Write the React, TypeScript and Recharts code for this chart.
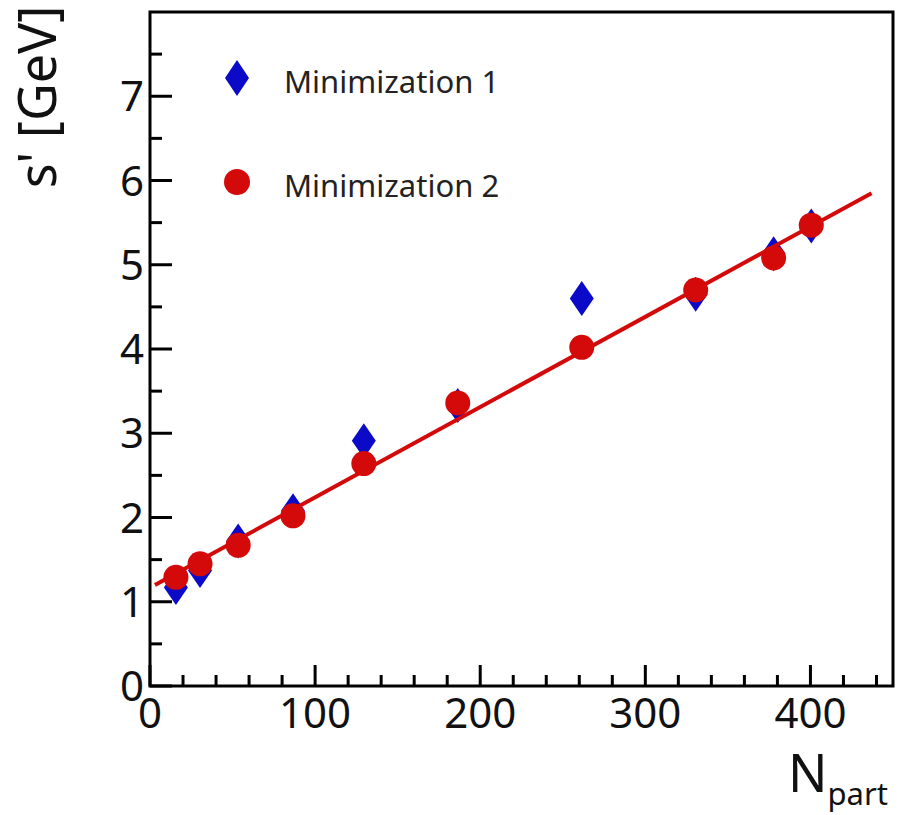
import React from 'react';
import { ScatterChart, Scatter, XAxis, YAxis, ReferenceArea, Legend } from 'recharts';

// N_part values (x) for both minimizations
const nPart = [15.7, 30.3, 53.4, 86.6, 129.5, 186.4, 261.5, 330.5, 377.7, 400.5];
// Minimization 1 (blue diamonds)
const sMin1 = [1.17, 1.37, 1.72, 2.08, 2.91, 3.33, 4.6, 4.65, 5.13, 5.46];
// Minimization 2 (red circles)
const sMin2 = [1.29, 1.45, 1.67, 2.02, 2.64, 3.36, 4.02, 4.7, 5.08, 5.47];
// Linear fit line end points
const fitX = [3, 437];
const fitY = [1.2, 5.85];

const xTicks = [0, 20, 40, 60, 80, 100, 120, 140, 160, 180, 200, 220, 240, 260, 280, 300, 320, 340, 360, 380, 400, 420, 440];
const yTicks = [0, 0.5, 1, 1.5, 2, 2.5, 3, 3.5, 4, 4.5, 5, 5.5, 6, 6.5, 7, 7.5];
const xLabels = [0, 100, 200, 300, 400];
const yLabels = [0, 1, 2, 3, 4, 5, 6, 7];

const seriesNames = ['Minimization 1', 'Minimization 2'];

const BLUE = '#0a0ac8';
const RED = '#d40a0a';
const FONT = "'Noto Sans', 'Liberation Sans', Arial, sans-serif";

const data1 = nPart.map((x, i) => ({ x, y: sMin1[i] }));
const data2 = nPart.map((x, i) => ({ x, y: sMin2[i] }));
const fitData = fitX.map((x, i) => ({ x, y: fitY[i] }));

const Diamond = (props: any) => {
  const { cx, cy } = props;
  if (cx == null || cy == null) return null;
  const w = 12, h = 17.5;
  return <polygon points={`${cx},${cy - h} ${cx + w},${cy} ${cx},${cy + h} ${cx - w},${cy}`} fill={BLUE} />;
};

const Dot = (props: any) => {
  const { cx, cy } = props;
  if (cx == null || cy == null) return null;
  return <circle cx={cx} cy={cy} r={12.5} fill={RED} />;
};

const NoShape = () => <g />;

const XTick = (props: any) => {
  const { x, y, payload } = props;
  const v = payload.value;
  const major = xLabels.includes(v);
  return (
    <g>
      <line x1={x} x2={x} y1={y} y2={y - (major ? 21 : 11)} stroke="#000" strokeWidth={3} />
      {major && (
        <text x={x} y={y + 42} textAnchor="middle" fontSize={42} fontFamily={FONT} fill="#111">
          {v}
        </text>
      )}
    </g>
  );
};

const YTick = (props: any) => {
  const { x, y, payload } = props;
  const v = payload.value;
  const major = yLabels.includes(v);
  return (
    <g>
      <line x1={x} x2={x + (major ? 22 : 12)} y1={y} y2={y} stroke="#000" strokeWidth={3} />
      {major && (
        <text x={x - 6} y={y + 15} textAnchor="end" fontSize={42} fontFamily={FONT} fill="#111">
          {v}
        </text>
      )}
    </g>
  );
};

const XTitle = () => (
  <text x={788} y={792} fontSize={52} fontFamily={FONT} fill="#111">
    N
    <tspan fontSize={31} dy={13}>part</tspan>
  </text>
);

const YTitle = () => (
  <text x={56} y={97} fontSize={52} fontFamily={FONT} fill="#111" textAnchor="middle" transform="rotate(-90, 56, 97)">
    s' [GeV]
  </text>
);

const LegendContent = () => (
  <svg width={300} height={160} style={{ display: 'block' }}>
    <polygon points="17,10 29,28 17,46 5,28" fill={BLUE} />
    <text x={64} y={43} fontSize={31} fontFamily={FONT} fill="#222">{seriesNames[0]}</text>
    <circle cx={17} cy={132} r={13} fill={RED} />
    <text x={64} y={147} fontSize={31} fontFamily={FONT} fill="#222">{seriesNames[1]}</text>
  </svg>
);

export default function App() {
  return (
    <div style={{ width: 903, height: 815, background: '#fff' }}>
      <style>{`body{margin:0;background:#fff}`}</style>
      <ScatterChart width={903} height={815} margin={{ top: 12, right: 10, bottom: 0, left: 0 }}>
        <XAxis
          type="number"
          dataKey="x"
          domain={[0, 450]}
          ticks={xTicks}
          interval={0}
          tickSize={0}
          tickMargin={0}
          tickLine={false}
          axisLine={false}
          tick={<XTick />}
          height={129}
          allowDataOverflow
          label={<XTitle />}
        />
        <YAxis
          type="number"
          dataKey="y"
          domain={[0, 8]}
          ticks={yTicks}
          interval={0}
          tickSize={0}
          tickMargin={0}
          tickLine={false}
          axisLine={false}
          tick={<YTick />}
          width={150}
          allowDataOverflow
          label={<YTitle />}
        />
        <ReferenceArea x1={0} x2={450} y1={0} y2={8} fill="none" stroke="#000" strokeWidth={3} fillOpacity={0} />
        <Legend
          layout="vertical"
          align="center"
          verticalAlign="middle"
          content={<LegendContent />}
          wrapperStyle={{ position: 'absolute', left: 220, top: 50, width: 300, height: 160 }}
        />
        <Scatter name={seriesNames[0]} data={data1} shape={<Diamond />} isAnimationActive={false} />
        <Scatter
          name="fit"
          data={fitData}
          line={{ stroke: RED, strokeWidth: 4 }}
          lineType="joint"
          shape={<NoShape />}
          legendType="none"
          isAnimationActive={false}
        />
        <Scatter name={seriesNames[1]} data={data2} shape={<Dot />} isAnimationActive={false} />
      </ScatterChart>
    </div>
  );
}
